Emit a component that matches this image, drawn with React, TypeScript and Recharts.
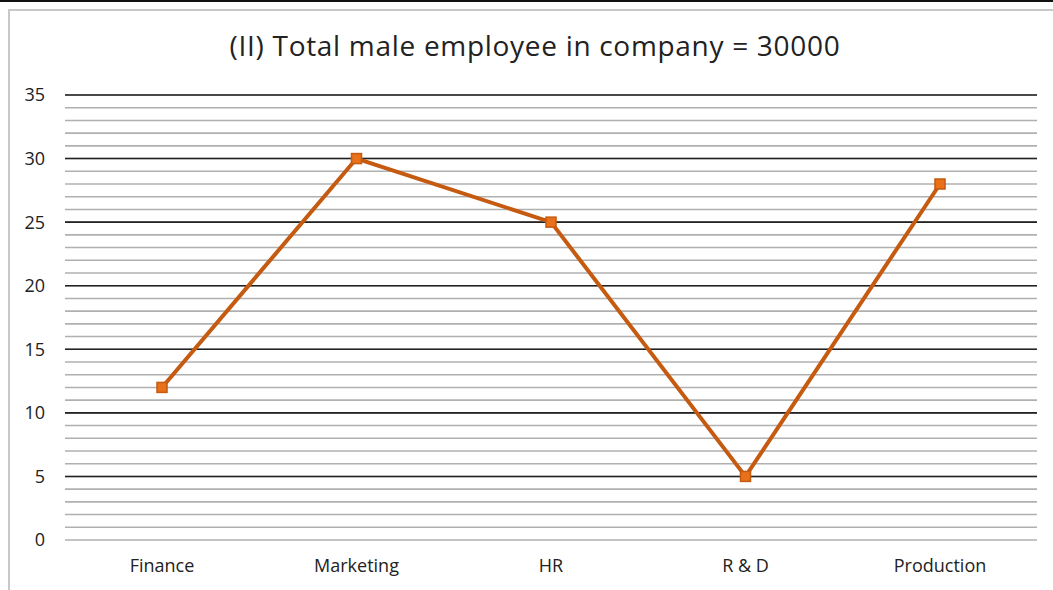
import { LineChart, Line, XAxis, YAxis, CartesianGrid, ReferenceLine } from "recharts";

const departments = ["Finance", "Marketing", "HR", "R & D", "Production"];
const malePercent = [12, 30, 25, 5, 28];
const yTicks = [0, 1, 2, 3, 4, 5, 6, 7, 8, 9, 10, 11, 12, 13, 14, 15, 16, 17, 18, 19, 20, 21, 22, 23, 24, 25, 26, 27, 28, 29, 30, 31, 32, 33, 34, 35];
const majorLines = [5, 10, 15, 20, 25, 30, 35];

const data = departments.map((name, i) => ({ name, value: malePercent[i] }));

const FONT = "'Open Sans', 'Liberation Sans', sans-serif";

function SquareDot(props: any) {
  const { cx, cy, index } = props;
  if (cx == null || cy == null) return null;
  return (
    <rect
      key={`dot-${index}`}
      x={cx - 5}
      y={cy - 5}
      width={10}
      height={10}
      fill="#e8711a"
      stroke="#c55a11"
      strokeWidth={1.5}
    />
  );
}

export default function App() {
  return (
    <div style={{ position: "absolute", left: 0, top: 0, width: 1053, height: 590, background: "#fff", overflow: "hidden" }}>
      <div style={{ position: "absolute", left: 0, top: 0, width: 1053, height: 2, background: "#111" }} />
      <div
        style={{
          position: "absolute",
          left: 8,
          top: 9,
          width: 1053,
          height: 600,
          borderTop: "2px solid #c8c8c8",
          borderLeft: "2px solid #c8c8c8",
        }}
      />
      <div
        style={{
          position: "absolute",
          left: 0,
          top: 26,
          width: 1070,
          textAlign: "center",
          fontFamily: FONT,
          fontSize: 28,
          letterSpacing: 0.7,
          color: "#222",
        }}
      >
        (II) Total male employee in company = 30000
      </div>
      <div style={{ position: "absolute", left: 0, top: 0 }}>
        <LineChart width={1053} height={590} data={data} margin={{ top: 95, right: 16, bottom: 0, left: 0 }}>
          <CartesianGrid vertical={false} stroke="#b0b0b0" strokeWidth={1.6} />
          {majorLines.map((v) => (
            <ReferenceLine key={v} y={v} stroke="#222" strokeWidth={1.6} />
          ))}
          <XAxis
            dataKey="name"
            height={50}
            padding={{ left: 97, right: 97 }}
            axisLine={false}
            tickLine={false}
            tickSize={0}
            tickMargin={19}
            tick={{ fill: "#222", fontSize: 18, fontFamily: FONT }}
          />
          <YAxis
            width={65}
            domain={[0, 35]}
            ticks={yTicks}
            interval={0}
            axisLine={false}
            tickLine={false}
            tickSize={0}
            tickMargin={20}
            tickFormatter={(v: number) => (v % 5 === 0 ? String(v) : "")}
            tick={{ fill: "#222", fontSize: 18, fontFamily: FONT }}
          />
          <Line
            type="linear"
            dataKey="value"
            stroke="#c55a11"
            strokeWidth={4}
            dot={<SquareDot />}
            activeDot={false}
            isAnimationActive={false}
          />
        </LineChart>
      </div>
    </div>
  );
}
